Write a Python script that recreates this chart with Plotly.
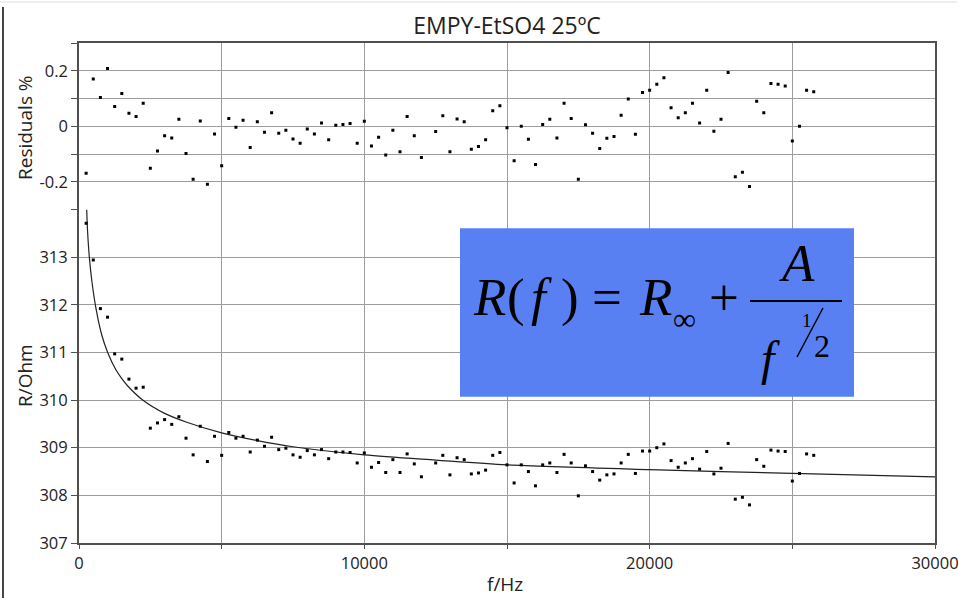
import plotly.graph_objects as go

# ---------------- data ----------------
freq_hz = [250, 500, 750, 1000, 1250, 1500, 1750, 2000, 2250, 2500, 2750, 3000,
           3250, 3500, 3750, 4000, 4250, 4500, 4750, 5000, 5250, 5500, 5750, 6000,
           6250, 6500, 6750, 7000, 7250, 7500, 7750, 8000, 8250, 8500, 8750, 9000,
           9250, 9500, 9750, 10000, 10250, 10500, 10750, 11000, 11250, 11500, 11750, 12000,
           12500, 12750, 13000, 13250, 13500, 13750, 14000, 14250, 14500, 14750, 15000,
           15250, 15500, 15750, 16000, 16250, 16500, 16750, 17000, 17250, 17500, 17750,
           18000, 18250, 18500, 18750, 19000, 19250, 19500, 19750, 20000, 20250, 20500,
           20750, 21000, 21250, 21500, 21750, 22000, 22250, 22500, 22750, 23000, 23250,
           23500, 23750, 24000, 24250, 24500, 24750, 25000, 25250, 25500, 25750]

residuals_pct = [-0.169, 0.170, 0.104, 0.208, 0.071, 0.118, 0.047, 0.035, 0.083, -0.151, -0.089, -0.034,
                 -0.042, 0.025, -0.098, -0.191, 0.019, -0.209, -0.028, -0.142, 0.028, -0.004, 0.022, -0.077,
                 0.016, -0.022, 0.049, -0.025, -0.014, -0.046, -0.061, -0.010, -0.028, 0.012, -0.049, 0.004,
                 0.006, 0.010, -0.061, 0.018, -0.071, -0.040, -0.104, -0.014, -0.092, 0.035, -0.034, -0.113,
                 -0.019, 0.038, -0.092, 0.026, 0.016, -0.083, -0.073, -0.049, 0.056, 0.074, -0.005,
                 -0.124, 0.000, -0.047, -0.138, 0.006, 0.025, -0.042, 0.083, 0.028, -0.191, 0.005,
                 -0.025, -0.080, -0.043, -0.037, 0.040, 0.098, -0.029, 0.122, 0.130, 0.151, 0.175,
                 0.067, 0.031, 0.049, 0.083, 0.012, 0.130, -0.018, 0.025, 0.194, -0.182, -0.166,
                 -0.217, 0.090, 0.049, 0.154, 0.151, 0.145, -0.053, 0.000, 0.130, 0.124]

resistance_ohm = [313.71, 312.94, 311.92, 311.74, 310.97, 310.86, 310.44, 310.25, 310.27, 309.41, 309.52, 309.59,
                  309.49, 309.65, 309.20, 308.85, 309.45, 308.71, 309.24, 308.84, 309.32, 309.20, 309.24, 308.91,
                  309.16, 309.03, 309.22, 308.96, 308.99, 308.85, 308.80, 308.94, 308.85, 308.96, 308.77, 308.91,
                  308.91, 308.90, 308.68, 308.89, 308.59, 308.69, 308.48, 308.75, 308.48, 308.87, 308.66, 308.39,
                  308.68, 308.84, 308.43, 308.79, 308.75, 308.45, 308.47, 308.53, 308.84, 308.90, 308.64,
                  308.26, 308.64, 308.50, 308.20, 308.64, 308.68, 308.48, 308.86, 308.68, 307.99, 308.62,
                  308.50, 308.32, 308.43, 308.45, 308.68, 308.86, 308.46, 308.93, 308.93, 309.00, 309.08,
                  308.73, 308.59, 308.68, 308.77, 308.55, 308.92, 308.45, 308.57, 309.09, 307.92, 307.96,
                  307.80, 308.75, 308.61, 308.95, 308.93, 308.92, 308.30, 308.46, 308.87, 308.84]

fit_freq_hz = [270, 300, 362, 450, 596, 800, 1005, 1297, 1500, 1700, 2232, 3000, 3751, 5000,
               6250, 7500, 10000, 12500, 15000, 20000, 25000, 30000]
fit_resistance_ohm = [314.0, 313.55, 313.0, 312.50, 311.92, 311.36, 311.0, 310.63, 310.45, 310.30, 310.0,
                      309.72, 309.54, 309.31, 309.15, 309.02, 308.85, 308.74, 308.64, 308.54, 308.46, 308.39]

x_tick_vals = [0, 5000, 10000, 15000, 20000, 25000, 30000]
x_tick_text = ["0", "", "10000", "", "20000", "", "30000"]
res_tick_vals = [-0.3, -0.2, -0.1, 0.0, 0.1, 0.2, 0.3]
res_tick_text = ["", "-0.2", "", "0", "", "0.2", ""]
r_tick_vals = [307, 308, 309, 310, 311, 312, 313, 314]
r_tick_text = ["307", "308", "309", "310", "311", "312", "313", ""]

title_text = "EMPY-EtSO4 25ºC"

# ---------------- layout helpers (pixel geometry) ----------------
W, H = 959, 598
ML, MR, MT, MB = 79, 24, 43, 55
PW = W - ML - MR
PH = H - MT - MB


def px(x):
    return (x - ML) / PW


def py(y):
    return (H - MB - y) / PH


split = py(209.5)

FONT = "Open Sans"
SERIF = "Liberation Serif"
AXIS_LINE = "#505050"
GRID = "#9c9c9c"

fig = go.Figure()

fig.add_trace(go.Scatter(
    x=freq_hz, y=residuals_pct, mode="markers", xaxis="x", yaxis="y",
    marker=dict(symbol="square", size=3, color="black", line=dict(width=0)),
    showlegend=False, hoverinfo="x+y"))

fig.add_trace(go.Scatter(
    x=fit_freq_hz, y=fit_resistance_ohm, mode="lines", xaxis="x2", yaxis="y2",
    line=dict(color="#222222", width=1.2, shape="spline", smoothing=0.8),
    showlegend=False, hoverinfo="skip"))

fig.add_trace(go.Scatter(
    x=freq_hz, y=resistance_ohm, mode="markers", xaxis="x2", yaxis="y2",
    marker=dict(symbol="square", size=3, color="black", line=dict(width=0)),
    showlegend=False, hoverinfo="x+y"))

tickfont = dict(family=FONT, size=16.5, color="#222222")

fig.update_layout(
    width=W, height=H,
    margin=dict(l=ML, r=MR, t=MT, b=MB, autoexpand=False),
    paper_bgcolor="white", plot_bgcolor="white",
    title=dict(text=title_text, x=0.5, xref="paper", xanchor="center",
               y=1 - 26 / H, yref="container", yanchor="middle",
               font=dict(family=FONT, size=23, color="#222222")),
    xaxis=dict(domain=[0, 1], range=[0, 30000], anchor="y", side="top",
               tickmode="array", tickvals=x_tick_vals, ticktext=[""] * 7,
               showticklabels=False, ticks="",
               showgrid=True, gridcolor=GRID, gridwidth=1, zeroline=False,
               showline=True, linecolor=AXIS_LINE, linewidth=1.5, mirror=False),
    yaxis=dict(domain=[split, 1], range=[-0.3, 0.3], anchor="x",
               tickmode="array", tickvals=res_tick_vals, ticktext=res_tick_text,
               ticks="outside", ticklen=6, tickcolor=AXIS_LINE, tickfont=tickfont,
               showgrid=True, gridcolor=GRID, gridwidth=1, zeroline=False,
               showline=True, linecolor=AXIS_LINE, linewidth=1.5, mirror=True),
    xaxis2=dict(domain=[0, 1], range=[0, 30000], anchor="y2",
                tickmode="array", tickvals=x_tick_vals, ticktext=x_tick_text,
                ticks="outside", ticklen=4, tickcolor=AXIS_LINE, tickfont=tickfont,
                showgrid=True, gridcolor=GRID, gridwidth=1, zeroline=False,
                showline=True, linecolor=AXIS_LINE, linewidth=2, mirror=False),
    yaxis2=dict(domain=[0, split], range=[307, 314], anchor="x2",
                tickmode="array", tickvals=r_tick_vals, ticktext=r_tick_text,
                ticks="outside", ticklen=6, tickcolor=AXIS_LINE, tickfont=tickfont,
                showgrid=True, gridcolor=GRID, gridwidth=1, zeroline=False,
                showline=True, linecolor=AXIS_LINE, linewidth=2, mirror=True),
)

annotations = [
    dict(text="Residuals %", x=px(25), y=py(128), textangle=-90),
    dict(text="R/Ohm", x=px(25), y=py(376), textangle=-90),
    dict(text="f/Hz", x=px(505), y=py(584), textangle=0),
]
for a in annotations:
    a.update(xref="paper", yref="paper", showarrow=False, xanchor="center", yanchor="middle",
             font=dict(family=FONT, size=19, color="#222222"))
    fig.add_annotation(**a)

# equation box and decorations
shapes = [
    dict(type="rect", xref="paper", yref="paper", x0=px(460), x1=px(854), y0=py(396.7), y1=py(228.3),
         fillcolor="#5880f2", line=dict(width=0), layer="above"),
    # fraction bar
    dict(type="line", xref="paper", yref="paper", x0=px(750), x1=px(842), y0=py(301), y1=py(301),
         line=dict(color="black", width=2), layer="above"),
    # slash of 1/2
    dict(type="line", xref="paper", yref="paper", x0=px(797), x1=px(823), y0=py(357), y1=py(308),
         line=dict(color="black", width=1.5), layer="above"),
    # image frame lines
    dict(type="line", xref="paper", yref="paper", x0=px(3), x1=px(3), y0=py(7), y1=py(598),
         line=dict(color="#444444", width=2), layer="above"),
    dict(type="line", xref="paper", yref="paper", x0=px(0), x1=px(957), y0=py(2), y1=py(2),
         line=dict(color="#dddddd", width=1), layer="above"),
]
for s in shapes:
    fig.add_shape(**s)


def eq(text, cx, baseline, size):
    fig.add_annotation(text=text, xref="paper", yref="paper",
                       x=px(cx), y=py(baseline - 0.3375 * size),
                       xanchor="center", yanchor="middle", showarrow=False,
                       font=dict(family=SERIF, size=size, color="black"))


eq("<i>R</i>", 489, 315, 53)
eq("(", 515.5, 315, 53)
eq("<i>f</i>", 541.5, 315, 53)
eq(")", 570, 315, 53)
eq("=", 607, 315, 53)
eq("<i>R</i>", 655, 315, 53)
eq("∞", 684, 329.6, 32)
eq("+", 723.5, 315, 53)
eq("<i>A</i>", 797, 281, 53)
eq("<i>f</i>", 770, 374.5, 48)
eq("1", 807, 327, 19)
eq("2", 822, 357, 32)

fig.write_html("out.html")
